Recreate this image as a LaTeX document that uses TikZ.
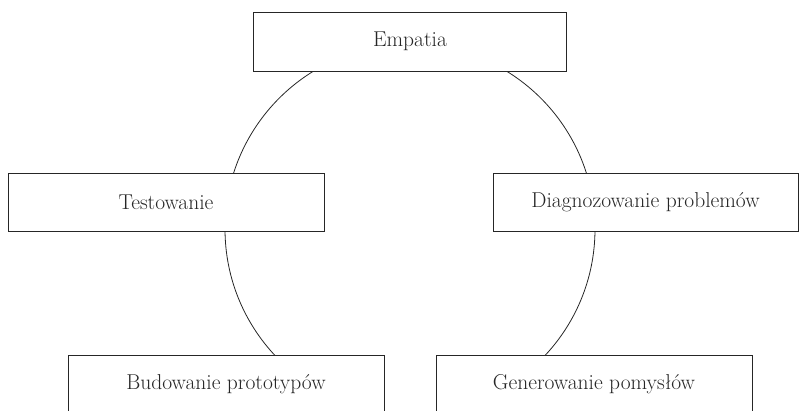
\documentclass[tikz,border=0pt]{standalone}
\usetikzlibrary{positioning}
\tikzset{stagebox/.style={draw=black!85, fill=white, line width=0.9pt, minimum width=316pt, minimum height=58pt, inner sep=0pt, text=black!85, font=\fontsize{21.5}{26}\selectfont}}
\tikzset{cyclering/.style={draw=black!85, line width=0.8pt}}

\begin{document}
\begin{tikzpicture}[x=1pt, y=-1pt]
    \useasboundingbox (0, 0) rectangle (800, 410);
    \clip (0, 0) rectangle (800, 410);
    \coordinate (centre) at (410, 229);
    \draw[cyclering] (centre) circle (185pt);
    \node[stagebox, minimum width=313pt, minimum height=59pt] (empatia) at (410, 41.5) {Empatia};
    \node[stagebox] (testowanie) at (166, 202) {Testowanie};
    \node[stagebox, minimum width=305pt] (diagnoza) at (645.5, 202) {Diagnozowanie problemów};
    \node[stagebox] (prototypy) at (226, 384) {Budowanie prototypów};
    \node[stagebox] (pomysly) at (594, 384) {Generowanie pomysłów};
\end{tikzpicture}
\end{document}
